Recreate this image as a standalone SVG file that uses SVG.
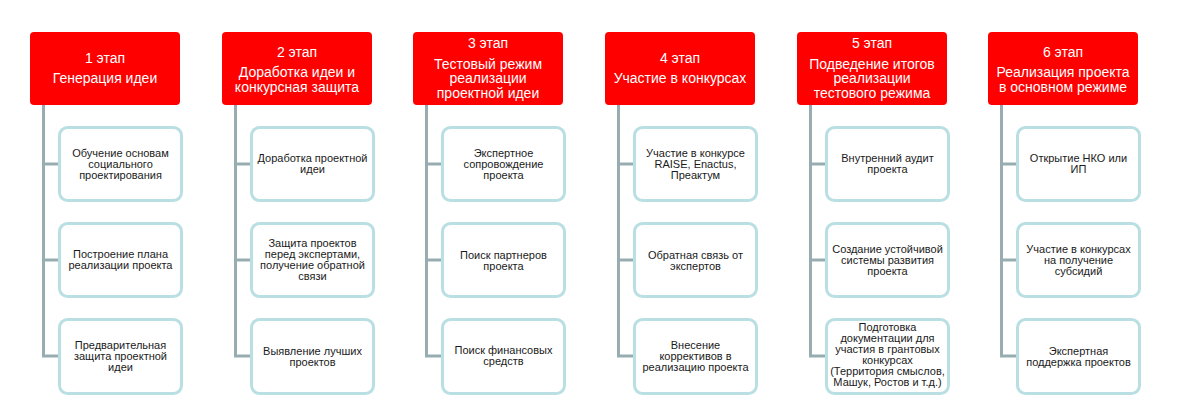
<svg xmlns="http://www.w3.org/2000/svg" width="1194" height="419" viewBox="0 0 1194 419">
<style>
.hd{fill:#ff0000}
.ht{fill:#ffffff;font-family:"Liberation Sans",Arial,sans-serif;font-size:14px;text-anchor:middle}
.bx{fill:#ffffff;stroke:#b9dfe2;stroke-width:3}
.bt{fill:#1a1a1a;font-family:"Liberation Sans",Arial,sans-serif;font-size:11px;text-anchor:middle}
.cn{fill:none;stroke:#97adb0;stroke-width:3}
</style>
<rect width="1194" height="419" fill="#ffffff"/>
<g id="connectors">
<path class="cn" d="M43.5 105V357.5M43.5 164H58M43.5 260H58M43.5 356H58"/>
<path class="cn" d="M235.5 105V357.5M235.5 164H250M235.5 260H250M235.5 356H250"/>
<path class="cn" d="M426.5 105V357.5M426.5 164H441M426.5 260H441M426.5 356H441"/>
<path class="cn" d="M618.5 105V357.5M618.5 164H633M618.5 260H633M618.5 356H633"/>
<path class="cn" d="M810.5 105V357.5M810.5 164H825M810.5 260H825M810.5 356H825"/>
<path class="cn" d="M1001.5 105V357.5M1001.5 164H1016M1001.5 260H1016M1001.5 356H1016"/>
</g>
<g id="stage1">
<rect class="hd" x="30" y="32" width="150" height="73" rx="4"/>
<text class="ht" x="105" y="63">1 этап</text>
<text class="ht" x="105" y="83">Генерация идеи</text>
</g>
<g id="s1b1"><rect class="bx" x="59.5" y="127.5" width="122" height="73" rx="8"/>
<text class="bt" x="120.5" y="157">Обучение основам</text><text class="bt" x="120.5" y="168">социального</text><text class="bt" x="120.5" y="179">проектирования</text></g>
<g id="s1b2"><rect class="bx" x="59.5" y="223.5" width="122" height="73" rx="8"/>
<text class="bt" x="120.5" y="258">Построение плана</text><text class="bt" x="120.5" y="269">реализации проекта</text></g>
<g id="s1b3"><rect class="bx" x="59.5" y="319.5" width="122" height="74" rx="8"/>
<text class="bt" x="120.5" y="349">Предварительная</text><text class="bt" x="120.5" y="360">защита проектной</text><text class="bt" x="120.5" y="371">идеи</text></g>

<g id="stage2">
<rect class="hd" x="222" y="32" width="150" height="73" rx="4"/>
<text class="ht" x="297" y="57">2 этап</text>
<text class="ht" x="297" y="77">Доработка идеи и</text>
<text class="ht" x="297" y="92">конкурсная защита</text>
</g>
<g id="s2b1"><rect class="bx" x="251.5" y="127.5" width="122" height="73" rx="8"/>
<text class="bt" x="312.5" y="162">Доработка проектной</text><text class="bt" x="312.5" y="173">идеи</text></g>
<g id="s2b2"><rect class="bx" x="251.5" y="223.5" width="122" height="73" rx="8"/>
<text class="bt" x="312.5" y="247">Защита проектов</text><text class="bt" x="312.5" y="258">перед экспертами,</text><text class="bt" x="312.5" y="269">получение обратной</text><text class="bt" x="312.5" y="280">связи</text></g>
<g id="s2b3"><rect class="bx" x="251.5" y="319.5" width="122" height="74" rx="8"/>
<text class="bt" x="312.5" y="355">Выявление лучших</text><text class="bt" x="312.5" y="366">проектов</text></g>

<g id="stage3">
<rect class="hd" x="413" y="32" width="150" height="73" rx="4"/>
<text class="ht" x="488" y="48">3 этап</text>
<text class="ht" x="488" y="69">Тестовый режим</text>
<text class="ht" x="488" y="83">реализации</text>
<text class="ht" x="488" y="98">проектной идеи</text>
</g>
<g id="s3b1"><rect class="bx" x="442.5" y="127.5" width="122" height="73" rx="8"/>
<text class="bt" x="503.5" y="157">Экспертное</text><text class="bt" x="503.5" y="168">сопровождение</text><text class="bt" x="503.5" y="179">проекта</text></g>
<g id="s3b2"><rect class="bx" x="442.5" y="223.5" width="122" height="73" rx="8"/>
<text class="bt" x="503.5" y="259">Поиск партнеров</text><text class="bt" x="503.5" y="270">проекта</text></g>
<g id="s3b3"><rect class="bx" x="442.5" y="319.5" width="122" height="74" rx="8"/>
<text class="bt" x="503.5" y="354">Поиск финансовых</text><text class="bt" x="503.5" y="365">средств</text></g>

<g id="stage4">
<rect class="hd" x="605" y="32" width="150" height="73" rx="4"/>
<text class="ht" x="680" y="63">4 этап</text>
<text class="ht" x="680" y="83">Участие в конкурсах</text>
</g>
<g id="s4b1"><rect class="bx" x="634.5" y="127.5" width="122" height="73" rx="8"/>
<text class="bt" x="695.5" y="157">Участие в конкурсе</text><text class="bt" x="695.5" y="168">RAISE, Enactus,</text><text class="bt" x="695.5" y="179">Преактум</text></g>
<g id="s4b2"><rect class="bx" x="634.5" y="223.5" width="122" height="73" rx="8"/>
<text class="bt" x="695.5" y="259">Обратная связь от</text><text class="bt" x="695.5" y="270">экспертов</text></g>
<g id="s4b3"><rect class="bx" x="634.5" y="319.5" width="122" height="74" rx="8"/>
<text class="bt" x="695.5" y="349">Внесение</text><text class="bt" x="695.5" y="360">коррективов в</text><text class="bt" x="695.5" y="371">реализацию проекта</text></g>

<g id="stage5">
<rect class="hd" x="797" y="32" width="150" height="73" rx="4"/>
<text class="ht" x="872" y="48">5 этап</text>
<text class="ht" x="872" y="69">Подведение итогов</text>
<text class="ht" x="872" y="83">реализации</text>
<text class="ht" x="872" y="98">тестового режима</text>
</g>
<g id="s5b1"><rect class="bx" x="826.5" y="127.5" width="122" height="73" rx="8"/>
<text class="bt" x="887.5" y="162">Внутренний аудит</text><text class="bt" x="887.5" y="173">проекта</text></g>
<g id="s5b2"><rect class="bx" x="826.5" y="223.5" width="122" height="73" rx="8"/>
<text class="bt" x="887.5" y="253">Создание устойчивой</text><text class="bt" x="887.5" y="264">системы развития</text><text class="bt" x="887.5" y="275">проекта</text></g>
<g id="s5b3"><rect class="bx" x="826.5" y="319.5" width="122" height="74" rx="8"/>
<text class="bt" x="887.5" y="331">Подготовка</text><text class="bt" x="887.5" y="342">документации для</text><text class="bt" x="887.5" y="353">участия в грантовых</text><text class="bt" x="887.5" y="364">конкурсах</text><text class="bt" x="887.5" y="375">(Территория смыслов,</text><text class="bt" x="887.5" y="386">Машук, Ростов и т.д.)</text></g>

<g id="stage6">
<rect class="hd" x="988" y="32" width="150" height="73" rx="4"/>
<text class="ht" x="1063" y="57">6 этап</text>
<text class="ht" x="1063" y="77">Реализация проекта</text>
<text class="ht" x="1063" y="92">в основном режиме</text>
</g>
<g id="s6b1"><rect class="bx" x="1017.5" y="127.5" width="122" height="73" rx="8"/>
<text class="bt" x="1078.5" y="162">Открытие НКО или</text><text class="bt" x="1078.5" y="173">ИП</text></g>
<g id="s6b2"><rect class="bx" x="1017.5" y="223.5" width="122" height="73" rx="8"/>
<text class="bt" x="1078.5" y="253">Участие в конкурсах</text><text class="bt" x="1078.5" y="264">на получение</text><text class="bt" x="1078.5" y="275">субсидий</text></g>
<g id="s6b3"><rect class="bx" x="1017.5" y="319.5" width="122" height="74" rx="8"/>
<text class="bt" x="1078.5" y="355">Экспертная</text><text class="bt" x="1078.5" y="366">поддержка проектов</text></g>
</svg>
